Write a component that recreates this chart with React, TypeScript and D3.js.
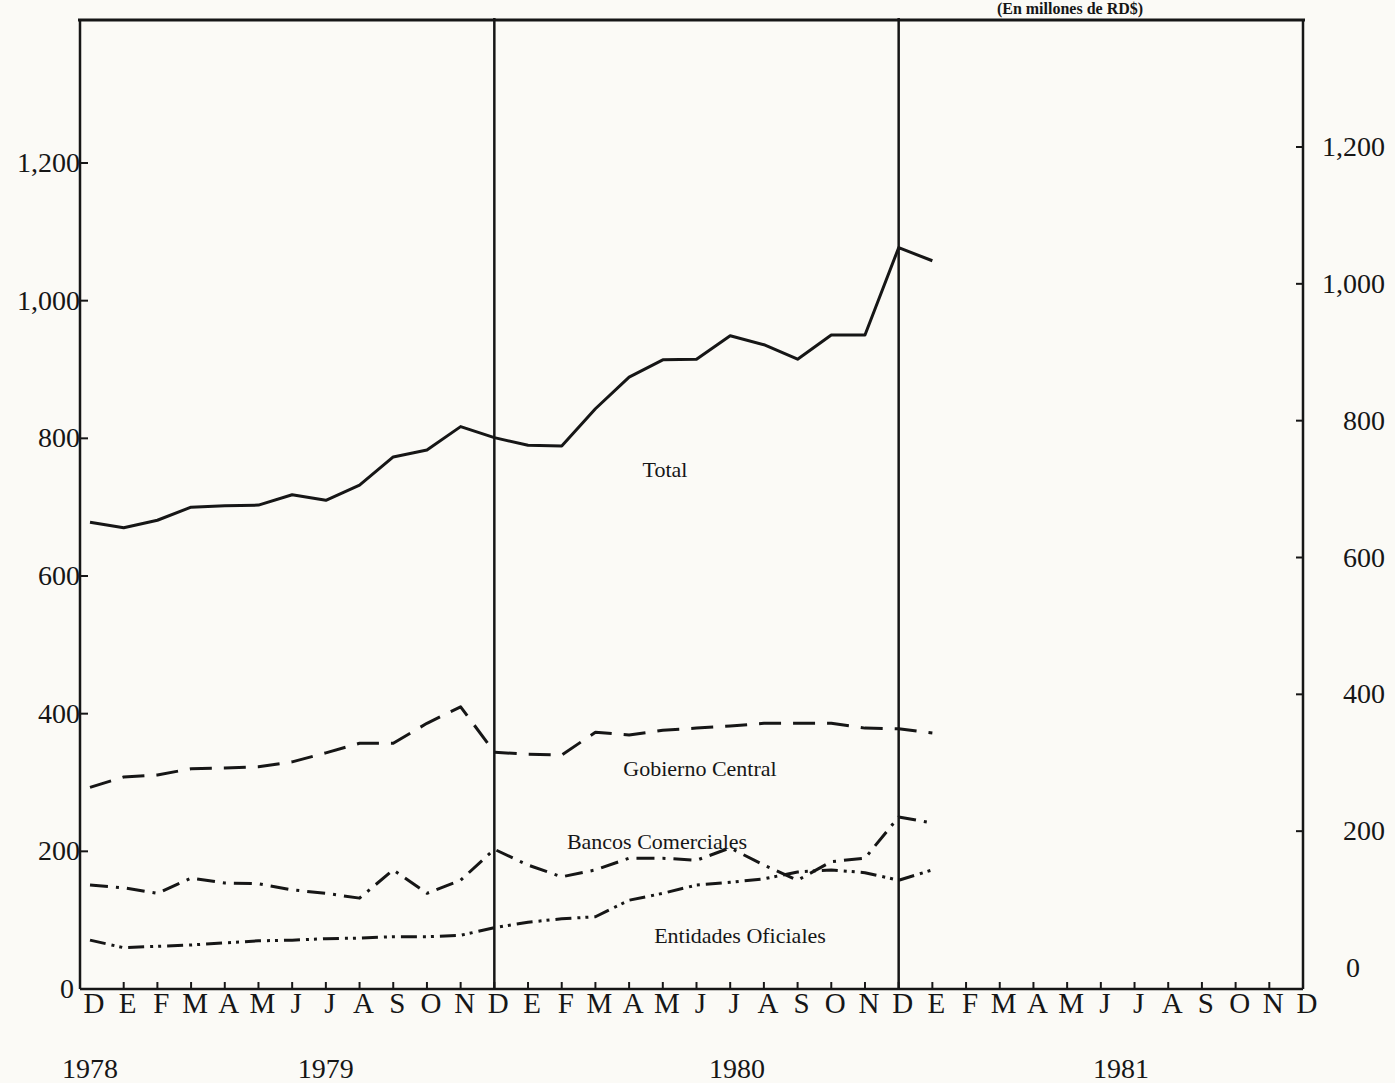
import React, {Component} from 'react';
import * as d3 from "d3";

// meses de diciembre 1978 a diciembre 1981
const months = ["D",
  "E", "F", "M", "A", "M", "J", "J", "A", "S", "O", "N", "D",
  "E", "F", "M", "A", "M", "J", "J", "A", "S", "O", "N", "D",
  "E", "F", "M", "A", "M", "J", "J", "A", "S", "O", "N", "D"];
const years = ["1978", "1979", "1980", "1981"];
const yTicks = [0, 200, 400, 600, 800, 1000, 1200];

// En millones de RD$, dic 1978 - ene 1981
const total = [678, 670, 681, 700, 702, 703, 718, 710, 732, 773, 783, 817,
  801, 790, 789, 843, 889, 914, 915, 949, 936, 915, 950, 950, 1077, 1058];
const gobiernoCentral = [293, 308, 311, 320, 321, 323, 330, 343, 357, 357, 386, 410,
  344, 341, 340, 373, 369, 376, 379, 382, 386, 386, 386, 379, 378, 372];
const bancosComerciales = [151, 147, 139, 161, 154, 153, 144, 139, 132, 173, 139, 158,
  203, 180, 163, 173, 190, 190, 187, 205, 180, 158, 185, 190, 250, 241];
const entidadesOficiales = [71, 60, 62, 64, 67, 70, 71, 73, 74, 76, 76, 78,
  89, 97, 102, 105, 129, 139, 151, 155, 160, 170, 173, 169, 158, 173];

const W = 1395, H = 1083;
const FONT = "'Liberation Serif', 'Times New Roman', serif";
const INK = "#161616";

class App extends Component {
  el: any = null;

  createSVG() {
    return d3.select(this.el)
      .append("svg")
      .attr("width", W)
      .attr("height", H)
      .attr("style", "position:absolute;left:0;top:0;background:#fbfaf6");
  }

  drawChart(svg: any) {
    const x = d3.scaleLinear().domain([0, 36]).range([90, 1303]);
    const y = d3.scaleLinear().domain([0, 1200]).range([989, 163]);
    // la escala derecha aparece algo mas arriba en el original
    const yRight = d3.scaleLinear().domain([0, 1200]).range([968, 147]);

    const axisLeftX = 80, axisRightX = x(36), top = 20, bottom = y(0);

    // marco
    svg.append("line").attr("x1", axisLeftX - 2).attr("x2", axisRightX + 2)
      .attr("y1", top).attr("y2", top).attr("stroke", INK).attr("stroke-width", 3);
    svg.append("line").attr("x1", axisLeftX).attr("x2", axisLeftX)
      .attr("y1", top).attr("y2", bottom).attr("stroke", INK).attr("stroke-width", 2.5);
    svg.append("line").attr("x1", axisRightX).attr("x2", axisRightX)
      .attr("y1", top).attr("y2", bottom).attr("stroke", INK).attr("stroke-width", 2.5);
    svg.append("line").attr("x1", axisLeftX).attr("x2", axisRightX)
      .attr("y1", bottom).attr("y2", bottom).attr("stroke", INK).attr("stroke-width", 2.5);

    // divisiones de año
    [12, 24].forEach(i => {
      svg.append("line").attr("x1", x(i)).attr("x2", x(i))
        .attr("y1", top - 2).attr("y2", bottom)
        .attr("stroke", INK).attr("stroke-width", 2.5);
    });

    // marcas del eje x
    svg.append("g").selectAll("line")
      .data(d3.range(1, 36))
      .join("line")
      .attr("x1", d => x(d)).attr("x2", d => x(d))
      .attr("y1", bottom).attr("y2", bottom - 7)
      .attr("stroke", INK).attr("stroke-width", 2);

    svg.append("g").selectAll("text")
      .data(months)
      .join("text")
      .attr("x", (d, i) => x(i) + 4)
      .attr("y", 1013)
      .attr("text-anchor", "middle")
      .attr("font-family", FONT)
      .attr("font-size", 29)
      .attr("fill", INK)
      .text(d => d);

    const yearAt = [0, 7, 19.2, 30.6];
    svg.append("g").selectAll("text")
      .data(years)
      .join("text")
      .attr("x", (d, i) => x(yearAt[i]))
      .attr("y", 1078)
      .attr("text-anchor", "middle")
      .attr("font-family", FONT)
      .attr("font-size", 28)
      .attr("fill", INK)
      .text(d => d);

    const fmt = d3.format(",");

    // eje izquierdo
    const left = svg.append("g");
    left.selectAll("line")
      .data(yTicks.slice(1))
      .join("line")
      .attr("x1", axisLeftX).attr("x2", axisLeftX + 8)
      .attr("y1", d => y(d)).attr("y2", d => y(d))
      .attr("stroke", INK).attr("stroke-width", 2);
    left.selectAll("text")
      .data(yTicks)
      .join("text")
      .attr("x", d => d === 0 ? 74 : 80)
      .attr("y", d => y(d) + 9)
      .attr("text-anchor", "end")
      .attr("font-family", FONT)
      .attr("font-size", 28)
      .attr("fill", INK)
      .text(d => fmt(d));

    // eje derecho
    const right = svg.append("g");
    right.selectAll("line")
      .data(yTicks.slice(1))
      .join("line")
      .attr("x1", axisRightX - 7).attr("x2", axisRightX)
      .attr("y1", d => yRight(d)).attr("y2", d => yRight(d))
      .attr("stroke", INK).attr("stroke-width", 2);
    right.selectAll("text")
      .data(yTicks)
      .join("text")
      .attr("x", d => d === 0 ? 1360 : 1385)
      .attr("y", d => yRight(d) + 9)
      .attr("text-anchor", "end")
      .attr("font-family", FONT)
      .attr("font-size", 28)
      .attr("fill", INK)
      .text(d => fmt(d));

    // series
    const line = d3.line<number>().x((d, i) => x(i)).y(d => y(d));
    const series = [
      {values: total, dash: null, width: 3},
      {values: gobiernoCentral, dash: "22 12", width: 3},
      {values: bancosComerciales, dash: "18 8 3 8", width: 3},
      {values: entidadesOficiales, dash: "16 6 3 5 3 6", width: 3},
    ];
    series.forEach(s => {
      svg.append("path")
        .datum(s.values)
        .attr("d", line)
        .attr("fill", "none")
        .attr("stroke", INK)
        .attr("stroke-width", s.width)
        .attr("stroke-linejoin", "round")
        .attr("stroke-dasharray", s.dash);
    });

    const labels = [
      {text: "Total", x: 665, y: 477},
      {text: "Gobierno Central", x: 700, y: 776},
      {text: "Bancos Comerciales", x: 657, y: 849},
      {text: "Entidades Oficiales", x: 740, y: 943},
    ];
    svg.append("g").selectAll("text")
      .data(labels)
      .join("text")
      .attr("x", d => d.x)
      .attr("y", d => d.y)
      .attr("text-anchor", "middle")
      .attr("font-family", FONT)
      .attr("font-size", 22)
      .attr("fill", INK)
      .text(d => d.text);

    // titulo en el borde superior
    svg.append("text")
      .attr("x", 1070)
      .attr("y", 14)
      .attr("text-anchor", "middle")
      .attr("font-family", FONT)
      .attr("font-weight", "bold")
      .attr("font-size", 16)
      .attr("fill", INK)
      .text("(En millones de RD$)");
  }

  componentDidMount = () => {
    if (this.el && !this.el.firstChild) {
      const svg = this.createSVG();
      this.drawChart(svg);
    }
  }

  render() {
    return <div ref={el => { this.el = el; }}></div>;
  }
}

export default App;
